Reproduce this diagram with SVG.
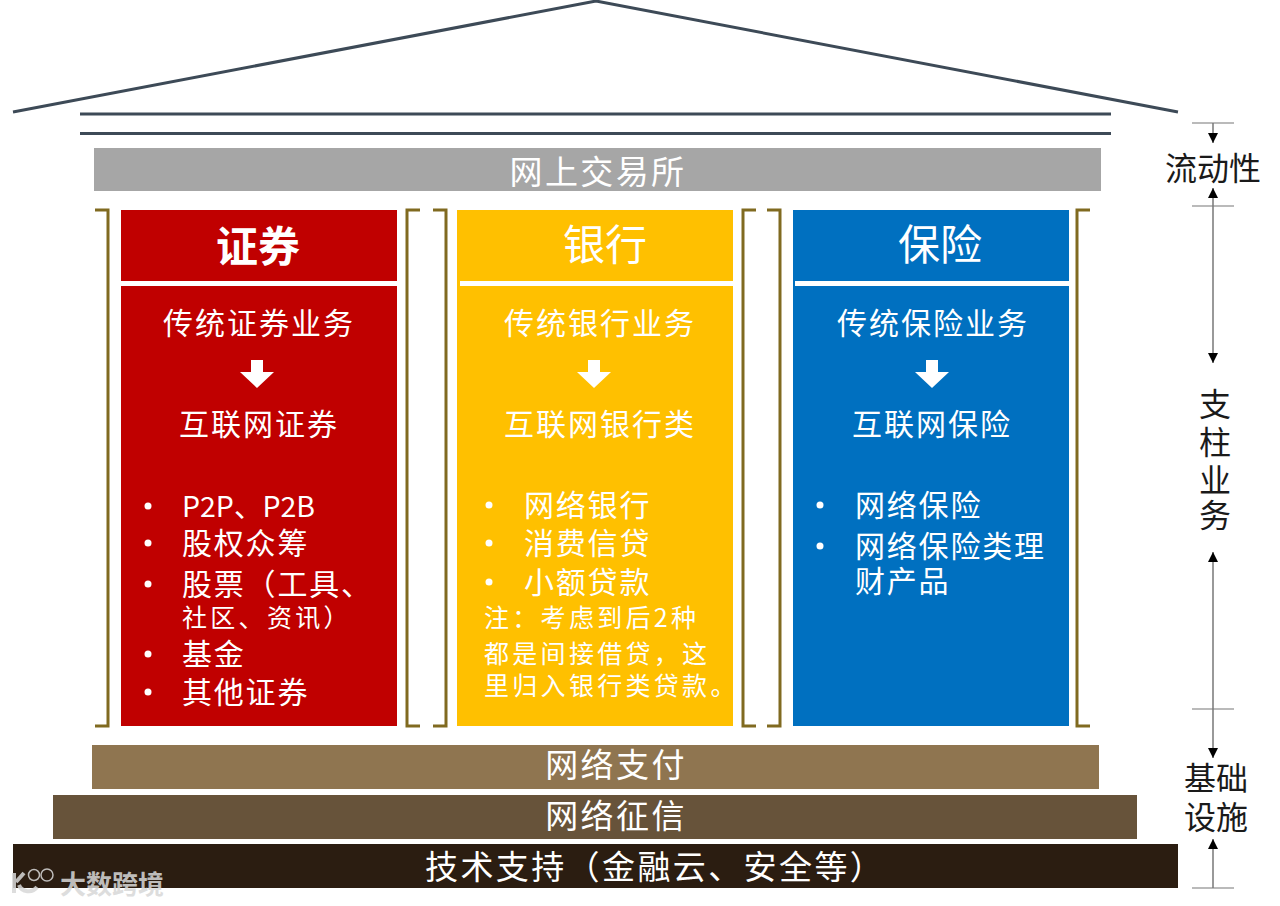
<svg xmlns="http://www.w3.org/2000/svg" width="1280" height="906" viewBox="0 0 1280 906">
<defs>
<marker id="a" markerWidth="10" markerHeight="10" refX="10" refY="5" orient="auto" markerUnits="userSpaceOnUse" viewBox="0 0 10 10"><path d="M0 0L10 5L0 10Z" fill="#000"/></marker>
<polygon id="down" points="-6,-15 6,-15 6,-3 17,-3 0,13 -17,-3 -6,-3" fill="#fff"/>
</defs>
<style>
text{font-family:"Noto Sans CJK SC","Noto Sans",sans-serif;fill:#fff}
.m{text-anchor:middle}
.h{font-size:42px}
.s{font-size:30px;letter-spacing:2px}
.l{font-size:30px;letter-spacing:1.800px}
.n{font-size:25px;letter-spacing:3.300px}
.b{font-size:33px;letter-spacing:2.400px}
.k{fill:#1a1a1a;font-size:32px}
.ink{stroke:#3d4a57;stroke-width:3;fill:none}
.br{stroke:#806a20;stroke-width:3;fill:none}
.tick{stroke:#777;stroke-width:1.2;fill:none}
.ax{stroke:#777;stroke-width:1.5;fill:none;marker-end:url(#a)}
</style>
<rect width="1280" height="906" fill="#fff"/>
<g id="roof">
<path class="ink" d="M13 112L596 1L1178 112"/>
<path class="ink" d="M80 114H1111M80 133.500H1111"/>
</g>
<g id="exchange"><rect x="94" y="148" width="1007" height="43" fill="#a6a6a6"/><text class="b m" x="598" y="184">网上交易所</text></g>
<g id="brackets">
<path class="br" d="M95 210H108V726H95M420 210H407V726H420M433 210H446V726H433M756 210H743V726H756M767 210H780V726H767M1090 210H1077V726H1090"/>
</g>
<g id="securities">
<rect x="121" y="210" width="276" height="516" fill="#c00000"/>
<rect x="121" y="281" width="276" height="5" fill="#fff"/>
<text class="h m" x="258" y="262" style="font-weight:700">证券</text>
<text class="s m" x="259" y="334">传统证券业务</text>
<use href="#down" x="257" y="375"/>
<text class="s m" x="259" y="435">互联网证券</text>
<circle cx="148" cy="506" r="3.500" fill="#fff"/><text x="182" y="517" style="font-size:28.500px">P2P、P2B</text>
<circle cx="148" cy="543" r="3.500" fill="#fff"/><text class="l" x="182" y="554">股权众筹</text>
<circle cx="148" cy="584" r="3.500" fill="#fff"/><text class="l" x="182" y="595">股票（工具、<tspan class="n" x="182" y="627">社区、资讯）</tspan></text>
<circle cx="148" cy="654" r="3.500" fill="#fff"/><text class="l" x="182" y="665">基金</text>
<circle cx="148" cy="692" r="3.500" fill="#fff"/><text class="l" x="182" y="703">其他证券</text>
</g>
<g id="bank">
<rect x="457" y="210" width="276" height="516" fill="#ffc000"/>
<rect x="460" y="281" width="273" height="5" fill="#fff"/>
<text class="h m" x="605" y="260">银行</text>
<text class="s m" x="600" y="334">传统银行业务</text>
<use href="#down" x="594" y="375"/>
<text class="s m" x="600" y="435">互联网银行类</text>
<circle cx="489" cy="505" r="3.500" fill="#fff"/><text class="l" x="524" y="516">网络银行</text>
<circle cx="489" cy="543" r="3.500" fill="#fff"/><text class="l" x="524" y="554">消费信贷</text>
<circle cx="489" cy="582" r="3.500" fill="#fff"/><text class="l" x="524" y="593">小额贷款</text>
<text class="n" x="484" y="627">注：考虑到后2种<tspan x="484" y="663">都是间接借贷，这</tspan><tspan x="484" y="695">里归入银行类贷款。</tspan></text>
</g>
<g id="insurance">
<rect x="793" y="210" width="276" height="516" fill="#0070c0"/>
<rect x="795" y="281" width="274" height="5" fill="#fff"/>
<text class="h m" x="940" y="260">保险</text>
<text class="s m" x="933" y="334">传统保险业务</text>
<use href="#down" x="932" y="375"/>
<text class="s m" x="932" y="435">互联网保险</text>
<circle cx="820" cy="505" r="3.500" fill="#fff"/><text class="l" x="855" y="516">网络保险</text>
<circle cx="820" cy="546" r="3.500" fill="#fff"/><text class="l" x="855" y="557">网络保险类理<tspan x="855" y="592">财产品</tspan></text>
</g>
<g id="payment"><rect x="92" y="745" width="1007" height="44" fill="#8f7550"/><text class="b m" x="616" y="777">网络支付</text></g>
<g id="credit"><rect x="53" y="795" width="1084" height="44" fill="#67533a"/><text class="b m" x="616" y="828">网络征信</text></g>
<g id="tech"><rect x="13" y="844" width="1165" height="44" fill="#2b1d11"/><text class="b" x="425" y="879">技术支持（金融云、安全等）</text></g>
<g id="watermark" opacity=".85">
<text x="60" y="894" style="font-size:26px;fill:#d8d8d8;font-weight:700">大数跨境</text>
<path d="M14 873V893M24 873L16 882M19 885A10 9 0 0 0 37 887" stroke="#d8d8d8" stroke-width="4" fill="none"/>
<circle cx="34" cy="875" r="5.500" stroke="#d8d8d8" stroke-width="1.500" fill="none"/><circle cx="47" cy="875" r="6" stroke="#d8d8d8" stroke-width="1.500" fill="none"/>
</g>
<g id="connectors">
<path class="tick" d="M1192 123H1234M1192 206H1234M1192 709H1234M1192 888H1234"/>
<path class="ax" d="M1213 123V143"/>
<path class="ax" d="M1213 206V188"/>
<path class="ax" d="M1213 206V363"/>
<path class="ax" d="M1213 709V552"/>
<path class="ax" d="M1213 709V758"/>
<path class="ax" d="M1213 888V839"/>
</g>
<g id="side-labels">
<text class="k m" x="1213" y="180">流动性</text>
<text class="k m" x="1215" y="416">支<tspan x="1215" y="454">柱</tspan><tspan x="1215" y="492">业</tspan><tspan x="1215" y="527">务</tspan></text>
<text class="k m" x="1216" y="790">基础<tspan x="1216" y="829">设施</tspan></text>
</g>
</svg>
